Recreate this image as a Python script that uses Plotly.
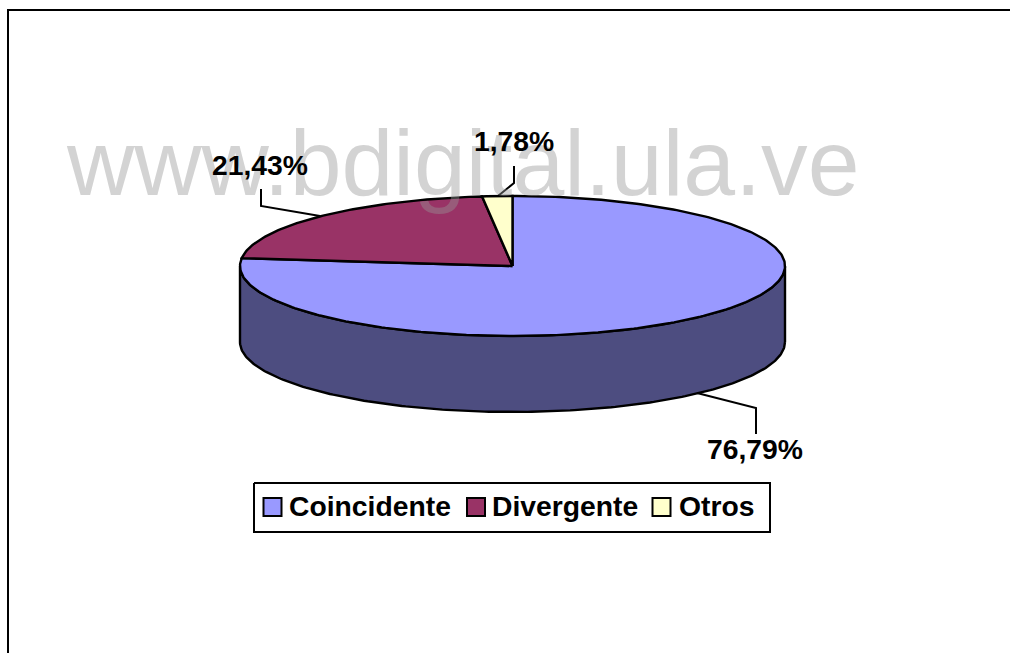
import numpy as np
import plotly.graph_objects as go

categories = ["Coincidente", "Divergente", "Otros"]
values = [76.79, 21.43, 1.78]
colors = ["#9999ff", "#993366", "#ffffcc"]
wall_color = "#4d4d80"
watermark = "www.bdigital.ula.ve"

W, H = 1010, 653
cx, cy, rx, ry, depth = 512.5, 266, 272.5, 70, 76
LW = 2.4


def ex(t):
    return cx + rx * np.sin(t)


def ey(t):
    return cy - ry * np.cos(t)


fig = go.Figure()

# side wall: the visible front half of the cylinder
t = np.linspace(np.pi / 2, 3 * np.pi / 2, 200)
wx = np.concatenate([ex(t), ex(t[::-1])])
wy = np.concatenate([ey(t) + depth, ey(t[::-1])])
fig.add_trace(go.Scatter(x=list(wx) + [wx[0]], y=list(wy) + [wy[0]], mode="lines", fill="toself",
                         fillcolor=wall_color, line=dict(color="black", width=LW),
                         showlegend=False, hoverinfo="skip"))

# top slices, clockwise from 12 o'clock
total = sum(values)
start = 0.0
for name, v, c in zip(categories, values, colors):
    end = start + v / total * 2 * np.pi
    a = np.linspace(start, end, max(int(v * 4), 8))
    px = [cx] + list(ex(a)) + [cx]
    py = [cy] + list(ey(a)) + [cy]
    fig.add_trace(go.Scatter(x=px, y=py, mode="lines", fill="toself", fillcolor=c,
                             line=dict(color="black", width=LW), showlegend=False,
                             hoverinfo="skip", name=name))
    start = end

# leader lines
leaders = [([756, 756, 697], [434, 408, 393]),
           ([261, 261, 320], [189, 206, 216]),
           ([514, 514, 498], [166, 183, 196])]
for lx, ly in leaders:
    fig.add_trace(go.Scatter(x=lx, y=ly, mode="lines", line=dict(color="black", width=2),
                             showlegend=False, hoverinfo="skip"))

# frame
fig.add_trace(go.Scatter(x=[8, 8, 1012], y=[660, 10, 10], mode="lines",
                         line=dict(color="black", width=2), showlegend=False, hoverinfo="skip"))

# legend box and entries
fig.add_trace(go.Scatter(x=[254, 770, 770, 254, 254], y=[483, 483, 532, 532, 483], mode="lines",
                         fill="toself", fillcolor="white", line=dict(color="black", width=2),
                         showlegend=False, hoverinfo="skip"))
swatch_x = [272.5, 476, 661.5]
text_x = [287, 489.5, 677]
for name, c, sx in zip(categories, colors, swatch_x):
    fig.add_trace(go.Scatter(x=[sx], y=[507], mode="markers", name=name, showlegend=False,
                             marker=dict(symbol="square", size=18, color=c,
                                         line=dict(color="black", width=2))))

label_pos = [(755, 449), (260, 165), (514, 141)]
annotations = [dict(x=463, y=163, xref="x", yref="y", text=watermark, showarrow=False,
                    font=dict(family="Liberation Sans", size=93.2, color="rgba(150,150,150,0.42)"))]
for v, (lx, ly) in zip(values, label_pos):
    annotations.append(dict(x=lx, y=ly, xref="x", yref="y", showarrow=False,
                            text=f"{v:.2f}%".replace(".", ","),
                            font=dict(family="Liberation Sans", size=28.3, color="black", weight="bold")))
for name, tx in zip(categories, text_x):
    annotations.append(dict(x=tx, y=506, xref="x", yref="y", xanchor="left", showarrow=False, text=name,
                            font=dict(family="Liberation Sans", size=28.3, color="black", weight="bold")))

fig.update_layout(
    width=W, height=H, margin=dict(l=0, r=0, t=0, b=0),
    paper_bgcolor="white", plot_bgcolor="white", showlegend=False,
    xaxis=dict(range=[0, W], visible=False, fixedrange=True),
    yaxis=dict(range=[H, 0], visible=False, fixedrange=True),
    annotations=annotations,
)
fig.write_html("out.html", config=dict(displayModeBar=False),
               post_script="document.body.style.margin='0';document.body.style.overflow='hidden';")
